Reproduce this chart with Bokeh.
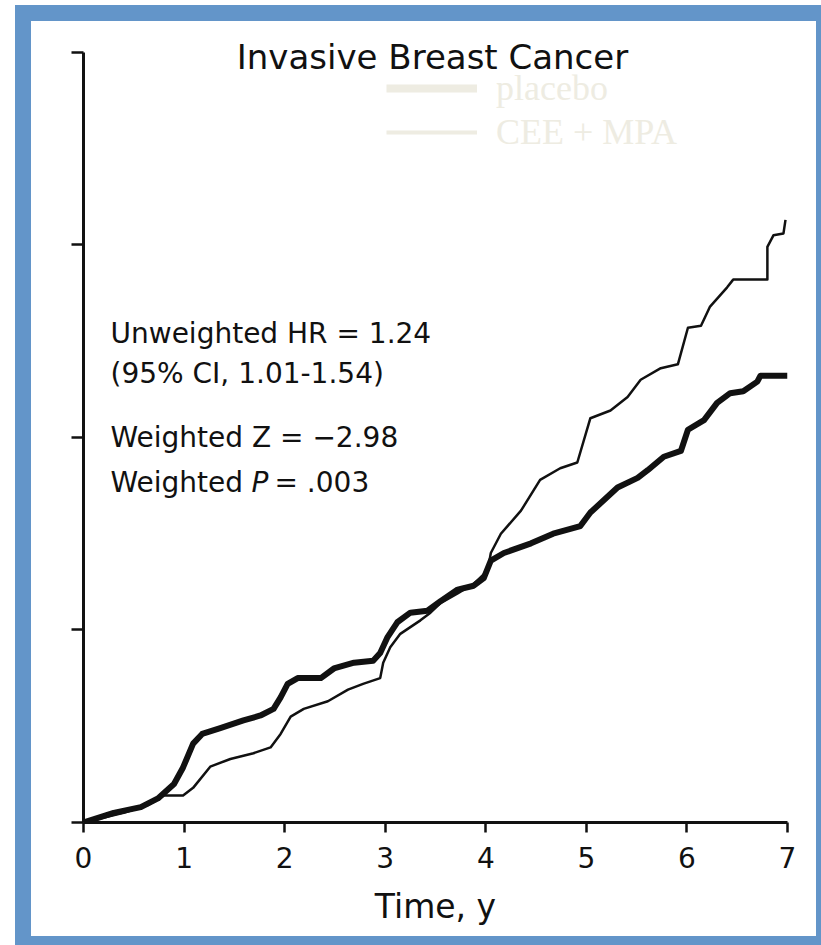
from bokeh.plotting import figure
from bokeh.models import Range1d, FixedTicker, Label, Legend, LegendItem
from bokeh.embed import file_html
from bokeh.resources import INLINE

# ---- data (years, cumulative hazard) ----
placebo_t = [0.0, 0.30, 0.57, 0.74, 0.90, 0.99, 1.09, 1.18, 1.36, 1.59, 1.76, 1.89, 1.96, 2.03,
             2.13, 2.36, 2.49, 2.69, 2.88, 2.95, 3.02, 3.12, 3.25, 3.42, 3.55, 3.72, 3.88, 3.98,
             4.05, 4.18, 4.45, 4.67, 4.94, 5.04, 5.31, 5.51, 5.61, 5.77, 5.94, 6.01, 6.17, 6.30,
             6.43, 6.56, 6.70, 6.73, 7.00]
placebo_h = [0.0, 0.0005, 0.0008, 0.00125, 0.0020, 0.00286, 0.0041, 0.0046, 0.0049, 0.0053,
             0.00556, 0.0059, 0.0065, 0.0072, 0.0075, 0.0075, 0.0080, 0.0083, 0.0084, 0.0088,
             0.0096, 0.0104, 0.0109, 0.0110, 0.0115, 0.0121, 0.0123, 0.0127, 0.0136, 0.0140,
             0.0145, 0.0150, 0.0154, 0.0161, 0.0174, 0.0179, 0.0183, 0.0190, 0.0193, 0.0204,
             0.0209, 0.0218, 0.0223, 0.0224, 0.0229, 0.0232, 0.0232]

cee_t = [0.0, 0.40, 0.64, 0.80, 0.99, 1.09, 1.26, 1.46, 1.69, 1.86, 1.96, 2.06, 2.19, 2.43,
         2.63, 2.78, 2.95, 2.98, 3.05, 3.15, 3.35, 3.45, 3.55, 3.72, 3.88, 4.02, 4.05, 4.15,
         4.35, 4.54, 4.74, 4.91, 5.04, 5.24, 5.41, 5.54, 5.74, 5.91, 6.01, 6.14, 6.23, 6.40,
         6.46, 6.80, 6.80, 6.86, 6.96, 6.98]
cee_h = [0.0, 0.0005, 0.0009, 0.0014, 0.0014, 0.0018, 0.0029, 0.0033, 0.0036, 0.0039, 0.0046,
         0.0055, 0.0059, 0.0063, 0.0069, 0.0072, 0.0075, 0.0083, 0.0091, 0.0098, 0.0105,
         0.0109, 0.0114, 0.0119, 0.0124, 0.0131, 0.0140, 0.0150, 0.0162, 0.0178, 0.0184,
         0.0187, 0.0210, 0.0214, 0.0221, 0.0230, 0.0236, 0.0238, 0.0257, 0.0258, 0.0268,
         0.0278, 0.0282, 0.0282, 0.0299, 0.0305, 0.0306, 0.0313]

x_ticks = [0, 1, 2, 3, 4, 5, 6, 7]
y_ticks = [0, 0.01, 0.02, 0.03, 0.04]

title_text = "Invasive Breast Cancer"
x_label = "Time, y"
series_names = ["placebo", "CEE + MPA"]
stats_lines = ["Unweighted HR = 1.24", "(95% CI, 1.01-1.54)", "Weighted Z = \u22122.98"]

BLUE = "#6395c9"
INK = "#111111"
PALE = "#eeece2"
SANS = "DejaVu Sans"

p = figure(width=806, height=940, output_backend="svg", toolbar_location=None,
           x_range=Range1d(0, 7), y_range=Range1d(0, 0.0414),
           min_border_left=52, min_border_right=50, min_border_top=4, min_border_bottom=139,
           background_fill_color="white", border_fill_color="white",
           outline_line_color=None)
p.styles = {"border-style": "solid", "border-color": BLUE,
            "border-width": "16px 5px 9px 16px",
            "margin-left": "15px", "margin-top": "5px"}
p.grid.visible = False

# x axis
xa = p.xaxis[0]
xa.ticker = FixedTicker(ticks=x_ticks)
xa.minor_tick_line_color = None
xa.major_tick_in = 0
xa.major_tick_out = 10
xa.major_tick_line_width = 2.5
xa.major_tick_line_color = INK
xa.axis_line_width = 3
xa.axis_line_color = INK
xa.major_label_text_font = SANS
xa.major_label_text_font_size = "28px"
xa.major_label_text_color = INK
xa.major_label_standoff = 14
xa.axis_label = x_label
xa.axis_label_text_font = SANS
xa.axis_label_text_font_size = "33px"
xa.axis_label_text_font_style = "normal"
xa.axis_label_text_color = INK
xa.axis_label_standoff = 16

# y axis (unlabelled ticks), line limited to 0..0.04
ya = p.yaxis[0]
ya.ticker = FixedTicker(ticks=y_ticks)
ya.bounds = (y_ticks[0], y_ticks[-1])
ya.minor_tick_line_color = None
ya.major_tick_in = 0
ya.major_tick_out = 12
ya.major_tick_line_width = 2.5
ya.major_tick_line_color = INK
ya.axis_line_width = 3
ya.axis_line_color = INK
ya.major_label_overrides = {t: "" for t in y_ticks}
ya.major_label_standoff = 0

# curves
p.line(placebo_t, placebo_h, line_color=INK, line_width=6, line_join="round")
p.line(cee_t, cee_h, line_color=INK, line_width=2.5, line_join="round")

# pale legend (as in reference) - renderers carry no visible data
nan = float("nan")
r1 = p.line([nan], [nan], line_color=PALE, line_width=8)
r2 = p.line([nan], [nan], line_color=PALE, line_width=4)
legend = Legend(items=[LegendItem(label=series_names[0], renderers=[r1]),
                       LegendItem(label=series_names[1], renderers=[r2])],
                location=(303, 669), glyph_width=91, glyph_height=40, label_height=40,
                label_standoff=19, spacing=2, padding=0, margin=0,
                border_line_color=None, background_fill_alpha=0,
                label_text_font="Liberation Serif", label_text_font_size="36px",
                label_text_color=PALE)
p.add_layout(legend)

# title
p.add_layout(Label(x=349, y=766, x_units="screen", y_units="screen", text=title_text,
                   text_align="center", text_baseline="alphabetic",
                   text_font=SANS, text_font_size="34px", text_color=INK))

# statistics text
for txt, yy in zip(stats_lines, [489, 449, 385]):
    p.add_layout(Label(x=27, y=yy, x_units="screen", y_units="screen", text=txt,
                       text_baseline="alphabetic", text_font=SANS, text_font_size="28px",
                       text_color=INK))
p.add_layout(Label(x=27, y=340, x_units="screen", y_units="screen", text="Weighted",
                   text_baseline="alphabetic", text_font=SANS, text_font_size="28px",
                   text_color=INK))
p.add_layout(Label(x=168, y=340, x_units="screen", y_units="screen", text="P",
                   text_baseline="alphabetic", text_font=SANS, text_font_size="28px",
                   text_font_style="italic", text_color=INK))
p.add_layout(Label(x=191, y=340, x_units="screen", y_units="screen", text="= .003",
                   text_baseline="alphabetic", text_font=SANS, text_font_size="28px",
                   text_color=INK))

open("out.html", "w").write(file_html(p, INLINE))
